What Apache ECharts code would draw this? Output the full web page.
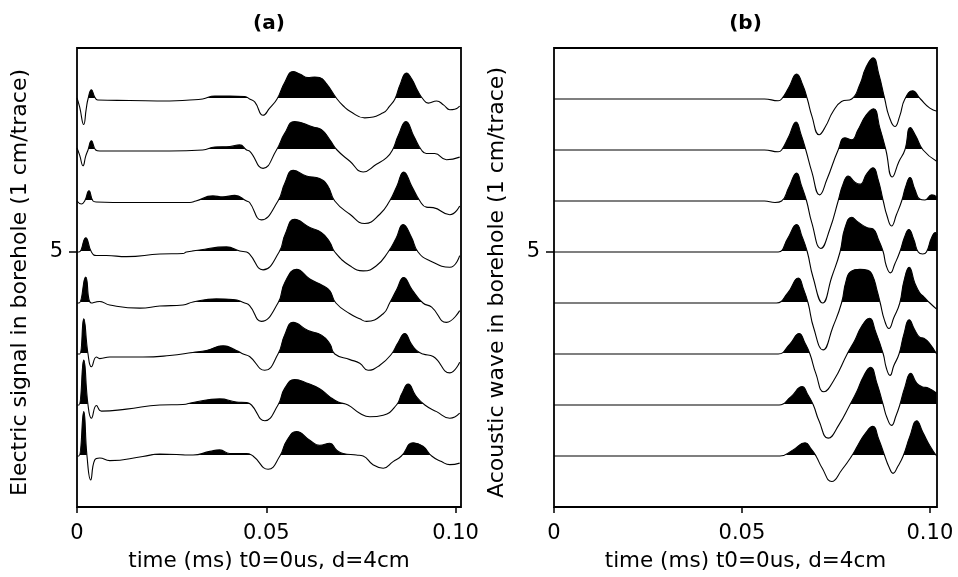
<!DOCTYPE html>
<html><head><meta charset="utf-8">
<script src="https://cdn.jsdelivr.net/npm/echarts@6/dist/echarts.min.js"></script>
<style>html,body{margin:0;padding:0;background:#fff}#c{width:958px;height:577px}</style>
</head><body><div id="c"></div>
<script>
// Each trace: [time (microseconds), amplitude (0.01 cm; 1 cm per trace)]
// Panel (a): electric signal, trace 1 = bottom
const traceA1 = [[0,0],[0.5,0],[1.77,87],[2.64,0],[3.62,-47],[4.68,-8],[6.0,-4],[8.64,-9],[17.4,-1],[21.9,4],[30.65,2],[35.1,9],[37.7,12],[40.35,5],[44.8,5],[46.5,0],[50.5,-26],[53.6,0],[55.4,30],[58.0,48],[61.5,31],[64.1,21],[66.8,25],[68.55,12],[70.3,5],[73.8,2],[75.6,0],[78.2,-17],[80.9,-24],[83.5,-11],[85.7,0],[88.8,26],[91.4,19],[93.7,0],[96.3,-11],[98.5,-17],[101.1,-14]];
const traceA2 = [[0,0],[0.5,0],[1.77,88],[2.91,0],[3.81,-26],[5.13,-1],[6.45,-12],[13.05,-8],[21.9,0],[28.0,1],[30.65,5],[37.7,12],[42.1,6],[44.8,5],[46.1,0],[49.6,-31],[53.1,0],[54.9,33],[57.5,50],[61.05,42],[64.1,32],[66.8,16],[69.0,6],[71.6,0],[74.7,-16],[77.35,-23],[80.9,-20],[84.4,0],[85.8,22],[87.5,41],[89.5,18],[91.9,0],[95.0,-13],[98.5,-26],[101.1,-16]];
const traceA3 = [[0,0],[0.7,0],[1.77,69],[2.91,0],[3.81,-25],[5.13,-6],[6.0,-9],[8.64,-6],[17.4,-6],[24.5,-3],[30.6,3],[34.2,7],[38.6,16],[42.1,7],[43.9,0],[45.6,-5],[49.6,-32],[53.1,0],[54.9,38],[57.1,62],[61.05,46],[64.6,37],[66.8,20],[68.1,0],[72.1,-11],[74.7,-18],[76.9,-32],[80.0,-22],[83.1,0],[84.8,22],[86.6,40],[88.3,20],[89.7,7],[91.4,0],[94.1,-5],[98.5,-37],[101.1,-16]];
const traceA4 = [[0,0],[0.53,0],[2.3,51],[3.81,0],[6.0,3],[8.64,-4],[16.6,-10],[21.9,-6],[28.0,-4],[30.65,2],[36.8,8],[41.2,7],[44.3,0],[45.6,-5],[48.7,-36],[53.1,0],[54.9,40],[58.0,66],[61.5,47],[65.0,34],[66.8,24],[68.4,0],[72.1,-21],[74.7,-31],[76.5,-36],[80.9,-21],[82.6,0],[84.5,27],[86.3,50],[88.45,27],[91.4,0],[93.7,-8],[97.6,-38],[101.1,-15]];
const traceA5 = [[0,0],[0.53,0],[2.3,28],[3.81,0],[5.13,-7],[7.77,-7],[13.05,-9],[21.9,-4],[28.0,-3],[28.9,0],[32.4,4],[39.5,10],[43.0,2],[44.8,0],[45.6,-4],[49.15,-35],[53.4,0],[55.0,35],[57.5,64],[61.5,48],[64.6,38],[66.8,19],[68.1,0],[72.1,-27],[75.6,-37],[79.1,-27],[82.2,0],[84.3,27],[86.15,54],[88.3,30],[90.1,0],[93.2,-17],[98.5,-30],[101.1,-7]];
const traceA6 = [[0,0],[1.16,-6],[2.03,0],[3.17,20],[4.23,0],[5.13,-2],[13.9,-3],[29.8,-3],[31.4,0],[35.9,10],[38.5,8],[41.7,11],[44.8,0],[45.6,-3],[48.7,-37],[53.1,0],[54.9,35],[57.1,60],[60.6,49],[64.1,44],[66.3,29],[68.1,0],[72.1,-26],[76.0,-44],[80.0,-26],[82.6,0],[84.5,29],[86.3,57],[88.45,29],[90.6,0],[92.3,-12],[94.1,-13],[98.5,-27],[101.1,-10]];
const traceA7 = [[0,4],[0.7,-10],[1.59,-31],[2.3,-12],[2.91,0],[3.81,18],[4.94,0],[6.0,-2],[24.5,-2],[33.2,0],[36.4,6],[40.4,7],[43.0,10],[44.8,0],[45.6,-2],[49.15,-36],[52.7,0],[54.9,33],[57.5,56],[62.4,45],[64.6,40],[66.8,20],[68.7,0],[72.1,-22],[75.6,-43],[79.1,-28],[81.8,-15],[83.35,0],[84.9,29],[86.9,56],[89.0,27],[91.0,0],[92.3,-7],[94.5,-7],[97.6,-19],[101.1,-14]];
const traceA8 = [[0,2],[0.71,-16],[1.77,-50],[2.43,-20],[2.91,0],[3.81,18],[4.68,4],[5.47,-2],[13.9,-3],[24.5,-4],[29.8,-2],[33.2,0],[36.4,6],[40.4,6],[44.3,5],[45.6,0],[47.0,-6],[49.15,-32],[50.9,-18],[52.85,0],[54.9,33],[57.1,54],[58.85,49],[61.05,42],[62.8,43],[64.1,42],[66.0,29],[68.7,0],[70.7,-16],[72.1,-24],[76.0,-37],[80.9,-27],[82.6,-14],[84.0,0],[85.3,27],[87.05,51],[88.45,39],[90.0,16],[91.4,0],[92.8,-8],[95.0,-4],[96.9,-12],[98.5,-21],[99.8,-20],[101.1,-14]];

// Panel (b): acoustic wave, trace 1 = bottom
const traceB1 = [[0,0],[50,0],[57,0],[60.1,0],[63.6,12],[66.8,26],[68.4,14],[69.7,0],[71.3,-23],[73.9,-50],[76.6,-27],[79.2,0],[80.85,21],[82.7,43],[84.8,58],[86.4,33],[88.0,0],[89.1,-21],[90.2,-34],[91.5,-20],[92.9,0],[94.7,39],[96.5,69],[98.1,47],[100.0,20],[101.8,0]];
const traceB2 = [[0,0],[50,0],[57,0],[59.9,0],[63.0,16],[66.0,36],[67.55,20],[69.0,0],[70.5,-31],[72.95,-65],[75.8,-39],[78.7,0],[80.6,27],[82.4,57],[84.2,74],[85.9,43],[87.6,0],[88.6,-25],[89.8,-40],[91.0,-21],[92.0,0],[93.35,35],[94.9,62],[96.5,43],[97.9,36],[99.7,33],[101.8,23]];
const traceB3 = [[0,0],[50,0],[57,0],[59.65,0],[62.8,20],[65.2,40],[66.8,21],[68.1,0],[69.7,-39],[71.8,-74],[74.5,-51],[78.0,0],[80.05,27],[81.9,55],[83.9,70],[85.6,43],[87.6,0],[88.4,-27],[89.4,-42],[90.4,-23],[91.8,0],[93.1,39],[94.5,67],[96.0,47],[97.3,33],[98.4,31],[100.0,20],[101.8,0]];
const traceB4 = [[0,0],[50,0],[57,0],[59.2,0],[62.2,20],[65.0,49],[66.4,27],[67.6,0],[69.1,-49],[71.6,-92],[74.2,-47],[76.5,0],[77.7,43],[79.0,62],[81.4,66],[83.5,64],[84.8,53],[86.0,23],[86.8,0],[87.9,-33],[89.1,-50],[90.4,-29],[92.0,0],[93.1,43],[94.5,70],[96.0,39],[97.3,20],[98.4,12],[100.0,0],[101.8,-12]];
const traceB5 = [[0,0],[50,0],[57,0],[59.65,0],[62.2,27],[64.55,54],[65.96,31],[67.4,0],[68.9,-49],[71.5,-100],[73.9,-49],[76.1,0],[77.4,47],[79.2,68],[80.85,59],[83.2,48],[84.9,45],[86.4,23],[87.6,0],[88.4,-27],[89.5,-41],[90.7,-23],[92.0,0],[93.35,31],[94.4,44],[95.7,25],[96.9,0],[98.1,-4],[99.1,0],[100.5,29],[101.5,38],[101.9,33]];
const traceB6 = [[0,0],[50,0],[56,0],[58.8,-3],[60.56,0],[62.5,27],[64.55,55],[65.8,31],[67.2,0],[68.6,-43],[71.0,-93],[73.4,-55],[75.6,0],[76.9,33],[78.3,49],[80.05,37],[81.4,33],[83.2,53],[84.9,65],[86.2,43],[87.6,0],[88.6,-29],[89.8,-49],[91.1,-27],[92.5,0],[93.6,29],[94.7,46],[96.0,23],[97.3,4],[98.7,2],[100.5,12],[101.9,8]];
const traceB7 = [[0,0],[50,0],[56,0],[59.65,-3.5],[60.56,0],[62.5,27],[64.4,55],[65.7,31],[67.0,0],[68.6,-43],[70.7,-88],[72.6,-58],[75.6,0],[77.4,24],[79.2,20],[80.85,39],[83.0,68],[85.0,81],[86.7,43],[88.3,0],[90.0,-53],[91.75,-23],[93.35,0],[94.8,44],[96.3,27],[98.2,0],[101.8,-22]];
const traceB8 = [[0,0],[50,0],[56,0],[59.65,-3.5],[60.56,0],[62.5,23],[64.55,49],[66.2,27],[67.4,0],[68.6,-33],[70.56,-70],[72.3,-53],[74.2,-25],[76.5,-5],[79.2,0],[81.4,29],[83.0,62],[84.9,81],[86.4,49],[88.0,0],[89.1,-33],[90.7,-54],[92.0,-33],[93.35,0],[95.4,16],[97.5,0],[100.0,-18],[101.9,-24]];

const tracesA = [traceA1, traceA2, traceA3, traceA4, traceA5, traceA6, traceA7, traceA8];
const tracesB = [traceB1, traceB2, traceB3, traceB4, traceB5, traceB6, traceB7, traceB8];

const xTickValues = [0, 0.05, 0.1];
const xTickLabels = ['0', '0.05', '0.10'];
const yTickValues = [5];
const yTickLabels = ['5'];
const panelTitles = ['(a)', '(b)'];
const yNames = ['Electric signal in borehole (1 cm/trace)', 'Acoustic wave in borehole (1 cm/trace)'];
const xName = 'time (ms) t0=0us, d=4cm';
const xMax = [0.10145, 0.1019];
const yMax = 9;

const FONT = '"DejaVu Sans", sans-serif';
const series = [];
const visualMaps = [];

function lab(values, labels) {
  return function (v) {
    for (let i = 0; i < values.length; i++) if (Math.abs(values[i] - v) < 1e-9) return labels[i];
    return '';
  };
}

function addTraces(traces, g) {
  traces.forEach(function (tr, i) {
    const base = i + 1;
    const edge = base + 0.01; // keep the colour edge just above the baseline row
    const data = tr.map(function (p) { return [p[0] / 1000, base + p[1] / 100]; });
    visualMaps.push({
      type: 'piecewise', show: false, seriesIndex: series.length, dimension: 1,
      pieces: [{min: base - 3, max: edge, color: 'rgba(0,0,0,0)'}, {min: edge, max: base + 3, color: '#000'}],
      outOfRange: {color: 'rgba(0,0,0,0)'}
    });
    series.push({
      type: 'line', xAxisIndex: g, yAxisIndex: g, data: data, smooth: 0.5, symbol: 'none',
      lineStyle: {width: 0, opacity: 0}, areaStyle: {origin: base, opacity: 1},
      silent: true, z: 2, animation: false
    });
    series.push({
      type: 'line', xAxisIndex: g, yAxisIndex: g, data: data, smooth: 0.5, symbol: 'none',
      lineStyle: {color: '#000', width: 1.1}, silent: true, z: 3, animation: false
    });
  });
}
addTraces(tracesA, 0);
addTraces(tracesB, 1);

const grids = [
  {left: 77, right: 958 - 461, top: 48, bottom: 577 - 509},
  {left: 554, right: 958 - 937, top: 48, bottom: 577 - 509}
].map(function (g) {
  return Object.assign(g, {show: true, borderColor: '#000', borderWidth: 1.8, backgroundColor: 'rgba(0,0,0,0)', containLabel: false});
});

const xAxes = [0, 1].map(function (g) {
  return {
    gridIndex: g, type: 'value', min: 0, max: xMax[g],
    axisLine: {show: false}, splitLine: {show: false},
    axisTick: {show: true, customValues: xTickValues, length: 6, lineStyle: {color: '#000', width: 1.5}},
    axisLabel: {customValues: xTickValues, formatter: lab(xTickValues, xTickLabels), margin: 16,
      color: '#000', fontSize: 21, fontFamily: FONT},
    name: xName, nameLocation: 'middle', nameGap: 43,
    nameTextStyle: {color: '#000', fontSize: 21.5, fontFamily: FONT}
  };
});

const yAxes = [0, 1].map(function (g) {
  return {
    gridIndex: g, type: 'value', min: 0, max: yMax,
    axisLine: {show: false}, splitLine: {show: false},
    axisTick: {show: true, customValues: yTickValues, length: 8, lineStyle: {color: '#000', width: 1.5}},
    axisLabel: {customValues: yTickValues, formatter: lab(yTickValues, yTickLabels), margin: 14,
      color: '#000', fontSize: 21, fontFamily: FONT},
    name: yNames[g], nameLocation: 'middle', nameGap: 46,
    nameTextStyle: {color: '#000', fontSize: 22, fontFamily: FONT, padding: [0, 10, 0, 0]}
  };
});

const chart = echarts.init(document.getElementById('c'), null, {renderer: 'canvas'});
chart.setOption({
  animation: false,
  backgroundColor: '#fff',
  graphic: [
    {type: 'text', x: 269, y: 24, style: {text: panelTitles[0], fontSize: 20, fontWeight: 'bold', fontFamily: FONT, fill: '#000', textAlign: 'center', textVerticalAlign: 'middle'}},
    {type: 'text', x: 745.5, y: 24, style: {text: panelTitles[1], fontSize: 20, fontWeight: 'bold', fontFamily: FONT, fill: '#000', textAlign: 'center', textVerticalAlign: 'middle'}}
  ],
  grid: grids,
  xAxis: xAxes,
  yAxis: yAxes,
  visualMap: visualMaps,
  series: series
});
</script>
</body></html>
